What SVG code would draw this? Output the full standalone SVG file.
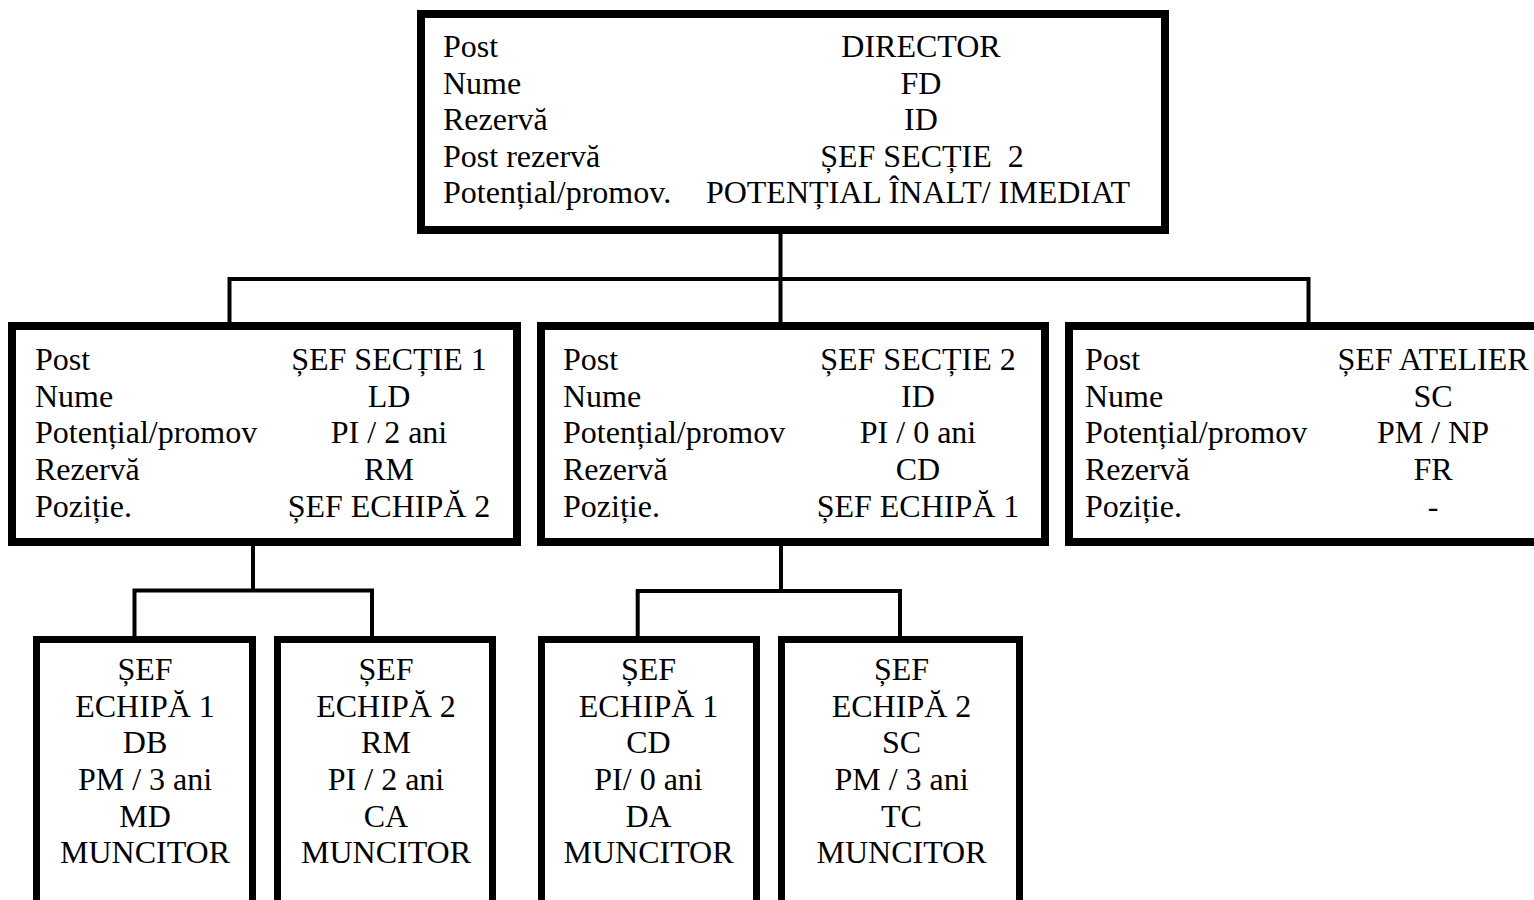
<svg xmlns="http://www.w3.org/2000/svg" width="1534" height="900" viewBox="0 0 1534 900" font-family="'Liberation Serif', 'Times New Roman', serif" font-size="32">
<style>
  .box { fill: #ffffff; stroke: #000000; stroke-width: 8; }
  .sbox { fill: #ffffff; stroke: #000000; stroke-width: 7; }
  .conn { fill: none; stroke: #000000; stroke-width: 4; }
  text { font-family: 'Liberation Serif', 'Times New Roman', serif; font-size: 32px; fill: #000000; }
  .v { text-anchor: middle; }
</style>
<rect x="0" y="0" width="1534" height="900" fill="#ffffff"/>
<g id="connectors">
  <path class="conn" d="M780.5 234 V322"/>
  <path class="conn" d="M229.5 322 V279 H1308.5 V322"/>
  <path class="conn" d="M253 546 V590.5"/>
  <path class="conn" d="M134.5 636 V590.5 H372 V636"/>
  <path class="conn" d="M781 546 V591"/>
  <path class="conn" d="M637.7 636 V591 H900 V636"/>
</g>
<g id="director">
  <rect class="box" x="421" y="14" width="744" height="216"/>
  <text x="443" y="57">Post</text>
  <text x="443" y="93.5">Nume</text>
  <text x="443" y="130">Rezervă</text>
  <text x="443" y="166.5">Post rezervă</text>
  <text x="443" y="203">Potențial/promov.</text>
  <text class="v" x="921" y="57">DIRECTOR</text>
  <text class="v" x="921" y="93.5">FD</text>
  <text class="v" x="921" y="130">ID</text>
  <text class="v" x="922" y="166.5" xml:space="preserve">ȘEF SECȚIE  2</text>
  <text class="v" x="918" y="203">POTENȚIAL ÎNALT/ IMEDIAT</text>
</g>
<g id="sef-sectie-1">
  <rect class="box" x="12" y="326" width="505" height="216"/>
  <text x="35" y="370">Post</text>
  <text x="35" y="406.7">Nume</text>
  <text x="35" y="443.3">Potențial/promov</text>
  <text x="35" y="480">Rezervă</text>
  <text x="35" y="516.7">Poziție.</text>
  <text class="v" x="389" y="370">ȘEF SECȚIE 1</text>
  <text class="v" x="389" y="406.7">LD</text>
  <text class="v" x="389" y="443.3">PI / 2 ani</text>
  <text class="v" x="389" y="480">RM</text>
  <text class="v" x="389" y="516.7">ȘEF ECHIPĂ 2</text>
</g>
<g id="sef-sectie-2">
  <rect class="box" x="541" y="326" width="504" height="216"/>
  <text x="563" y="370">Post</text>
  <text x="563" y="406.7">Nume</text>
  <text x="563" y="443.3">Potențial/promov</text>
  <text x="563" y="480">Rezervă</text>
  <text x="563" y="516.7">Poziție.</text>
  <text class="v" x="918" y="370">ȘEF SECȚIE 2</text>
  <text class="v" x="918" y="406.7">ID</text>
  <text class="v" x="918" y="443.3">PI / 0 ani</text>
  <text class="v" x="918" y="480">CD</text>
  <text class="v" x="918" y="516.7">ȘEF ECHIPĂ 1</text>
</g>
<g id="sef-atelier">
  <rect class="box" x="1069" y="326" width="520" height="216"/>
  <text x="1085" y="370">Post</text>
  <text x="1085" y="406.7">Nume</text>
  <text x="1085" y="443.3">Potențial/promov</text>
  <text x="1085" y="480">Rezervă</text>
  <text x="1085" y="516.7">Poziție.</text>
  <text class="v" x="1433" y="370">ȘEF ATELIER</text>
  <text class="v" x="1433" y="406.7">SC</text>
  <text class="v" x="1433" y="443.3">PM / NP</text>
  <text class="v" x="1433" y="480">FR</text>
  <text class="v" x="1433" y="516.7">-</text>
</g>
<g id="echipa-1-s1">
  <rect class="sbox" x="36.5" y="639.5" width="216" height="300"/>
  <text class="v" x="145" y="680">ȘEF</text>
  <text class="v" x="145" y="716.7">ECHIPĂ 1</text>
  <text class="v" x="145" y="753.3">DB</text>
  <text class="v" x="145" y="790">PM / 3 ani</text>
  <text class="v" x="145" y="826.7">MD</text>
  <text class="v" x="145" y="863.3">MUNCITOR</text>
</g>
<g id="echipa-2-s1">
  <rect class="sbox" x="277.5" y="639.5" width="215" height="300"/>
  <text class="v" x="386" y="680">ȘEF</text>
  <text class="v" x="386" y="716.7">ECHIPĂ 2</text>
  <text class="v" x="386" y="753.3">RM</text>
  <text class="v" x="386" y="790">PI / 2 ani</text>
  <text class="v" x="386" y="826.7">CA</text>
  <text class="v" x="386" y="863.3">MUNCITOR</text>
</g>
<g id="echipa-1-s2">
  <rect class="sbox" x="541.5" y="639.5" width="215" height="300"/>
  <text class="v" x="648.5" y="680">ȘEF</text>
  <text class="v" x="648.5" y="716.7">ECHIPĂ 1</text>
  <text class="v" x="648.5" y="753.3">CD</text>
  <text class="v" x="648.5" y="790">PI/ 0 ani</text>
  <text class="v" x="648.5" y="826.7">DA</text>
  <text class="v" x="648.5" y="863.3">MUNCITOR</text>
</g>
<g id="echipa-2-s2">
  <rect class="sbox" x="781.5" y="639.5" width="238" height="300"/>
  <text class="v" x="901.5" y="680">ȘEF</text>
  <text class="v" x="901.5" y="716.7">ECHIPĂ 2</text>
  <text class="v" x="901.5" y="753.3">SC</text>
  <text class="v" x="901.5" y="790">PM / 3 ani</text>
  <text class="v" x="901.5" y="826.7">TC</text>
  <text class="v" x="901.5" y="863.3">MUNCITOR</text>
</g>
</svg>
